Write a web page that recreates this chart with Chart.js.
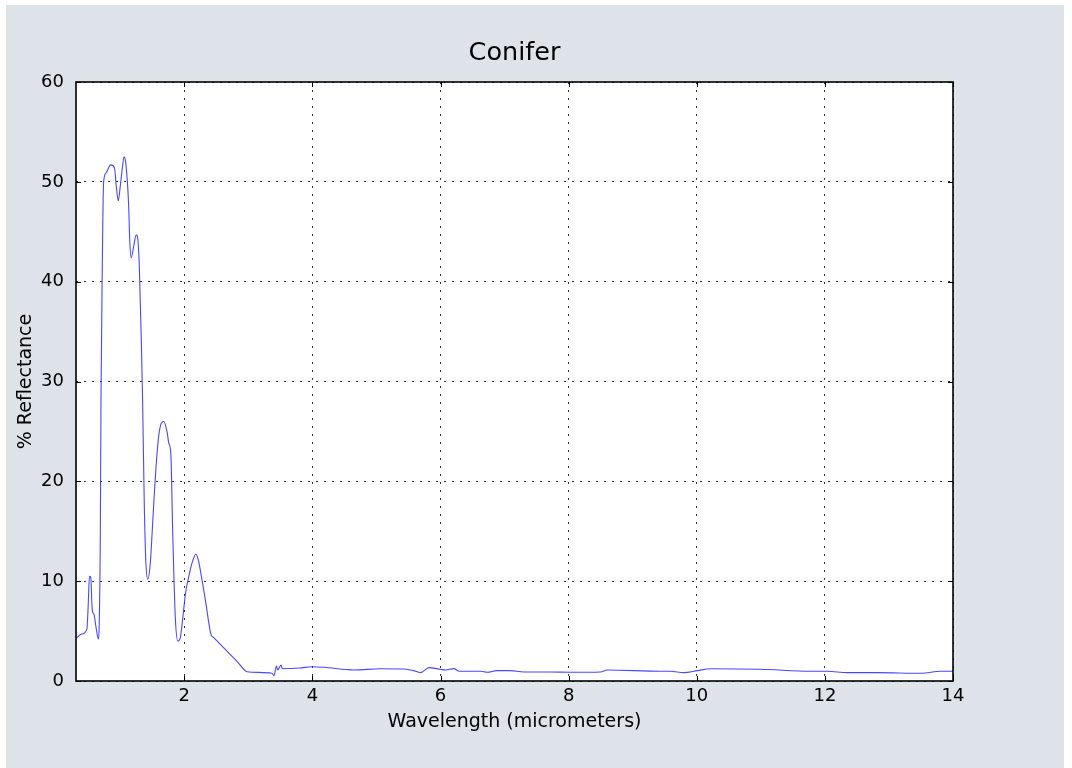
<!DOCTYPE html>
<html>
<head>
<meta charset="utf-8">
<script src="https://cdn.jsdelivr.net/npm/chart.js@4"></script>
<style>
  body { margin: 0; background: #ffffff; }
  #wrap { position: absolute; left: 6px; top: 5px; width: 1058px; height: 763px; background: #dde3e8; }
</style>
</head>
<body>
<div id="wrap"><canvas id="grafico" width="1058" height="763"></canvas></div>
<script>
// Comprimentos de onda (micrometros) e refletância (%)
const wavelength = [
    0.31, 0.40, 0.48, 0.50, 0.52, 0.54, 0.56, 0.57, 0.59, 0.62, 0.66, 0.67, 0.69, 0.70, 0.72, 0.74,
    0.78, 0.85, 0.91, 0.94, 0.97, 1.00, 1.03, 1.06, 1.09, 1.13, 1.15, 1.17, 1.21, 1.25, 1.28, 1.30,
    1.33, 1.35, 1.375, 1.40, 1.43, 1.47, 1.50, 1.53, 1.56, 1.60, 1.64, 1.68, 1.73, 1.76, 1.79, 1.82,
    1.86, 1.90, 1.94, 1.98, 2.02, 2.07, 2.13, 2.18, 2.22, 2.28, 2.33, 2.42, 2.45, 2.56, 2.70, 2.84,
    2.98, 3.37, 3.40, 3.44, 3.46, 3.51, 3.53, 3.80, 4.00, 4.18, 4.65, 5.06, 5.43, 5.58, 5.69, 5.82,
    6.00, 6.08, 6.21, 6.29, 6.63, 6.73, 6.88, 7.09, 7.30, 7.72, 8.02, 8.50, 8.60, 9.44, 9.59, 9.80,
    10.01, 10.22, 11.00, 11.78, 12.04, 12.35, 12.82, 13.50, 13.81, 14.00
];
const reflectance = [
    4.3, 4.7, 5.2, 7.5, 10.5, 10.4, 7.5, 6.9, 6.7, 5.5, 4.2, 5.0, 15.0, 28.0, 41.2, 49.9,
    50.9, 51.7, 51.4, 49.5, 48.1, 49.5, 51.2, 52.5, 51.7, 47.9, 44.0, 42.4, 43.5, 44.7, 43.9, 41.2,
    34.0, 28.0, 18.0, 12.0, 10.2, 11.8, 15.0, 18.5, 21.5, 24.5, 25.8, 26.0, 25.0, 23.8, 22.8, 14.8,
    6.4, 4.0, 4.4, 6.5, 8.8, 10.45, 12.0, 12.7, 12.1, 10.0, 8.1, 4.6, 4.4, 3.7, 2.77, 1.85,
    0.93, 0.77, 0.53, 1.5, 1.1, 1.6, 1.23, 1.3, 1.43, 1.37, 1.1, 1.23, 1.2, 1.04, 0.84, 1.34,
    1.17, 1.1, 1.24, 0.97, 0.97, 0.87, 1.04, 1.04, 0.9, 0.9, 0.87, 0.9, 1.1, 0.97, 0.97, 0.84,
    1.04, 1.23, 1.17, 0.97, 0.97, 0.84, 0.84, 0.77, 0.97, 0.97
];
const xTicks = [2, 4, 6, 8, 10, 12, 14];
const yTicks = [0, 10, 20, 30, 40, 50, 60];
const titulo = 'Conifer';

const fonte = 'DejaVu Sans';

// fundo branco, título centrado na área do gráfico, moldura e marcas para dentro
const moldura = {
    id: 'moldura',
    beforeDraw(chart) {
        const a = chart.chartArea;
        const c = chart.ctx;
        c.save();
        c.fillStyle = '#ffffff';
        c.fillRect(a.left, a.top, a.right - a.left, a.bottom - a.top);
        c.fillStyle = '#000';
        c.font = '25.5px "' + fonte + '"';
        c.textAlign = 'center';
        c.textBaseline = 'middle';
        c.fillText(titulo, (a.left + a.right) / 2, 48);
        c.restore();
    },
    afterDatasetsDraw(chart) {
        const ctx = chart.ctx;
        const a = chart.chartArea;
        const sx = chart.scales.x, sy = chart.scales.y;
        ctx.save();
        ctx.strokeStyle = '#000';
        ctx.lineWidth = 1;
        ctx.beginPath();
        xTicks.forEach(v => {
            const px = Math.round(sx.getPixelForValue(v)) + 0.5;
            ctx.moveTo(px, a.bottom); ctx.lineTo(px, a.bottom - 5);
            ctx.moveTo(px, a.top); ctx.lineTo(px, a.top + 5);
        });
        yTicks.forEach(v => {
            const py = Math.round(sy.getPixelForValue(v)) + 0.5;
            ctx.moveTo(a.left, py); ctx.lineTo(a.left + 5, py);
            ctx.moveTo(a.right, py); ctx.lineTo(a.right - 5, py);
        });
        ctx.stroke();
        ctx.lineWidth = 1.6;
        ctx.strokeRect(a.left, a.top, a.right - a.left, a.bottom - a.top);
        ctx.restore();
    }
};

const ctx = document.getElementById('grafico').getContext('2d');
new Chart(ctx, {
    type: 'line',
    data: {
        datasets: [{
            label: titulo,
            data: wavelength.map((w, i) => ({ x: w, y: reflectance[i] })),
            borderColor: 'rgba(40, 40, 255, 0.85)',
            borderWidth: 1.1,
            pointRadius: 0,
            fill: false,
            cubicInterpolationMode: 'monotone'
        }]
    },
    options: {
        responsive: false,
        animation: false,
        layout: { padding: { left: 0, right: 111, top: 77, bottom: 0 } },
        plugins: {
            legend: { display: false },
            tooltip: { enabled: false },
            title: { display: false }
        },
        scales: {
            x: {
                type: 'linear',
                min: 0.31,
                max: 14,
                afterBuildTicks: s => { s.ticks = xTicks.map(v => ({ value: v })); },
                afterFit: s => { s.height = 87; },
                grid: { color: '#333', lineWidth: 1, drawTicks: false },
                border: { display: false, dash: [2, 6] },
                ticks: {
                    color: '#000',
                    padding: 5,
                    maxRotation: 0,
                    autoSkip: false,
                    font: { family: fonte, size: 18 }
                },
                title: {
                    display: true,
                    text: 'Wavelength (micrometers)',
                    color: '#000',
                    font: { family: fonte, size: 19, lineHeight: 1.2 },
                    padding: { top: 0, bottom: 35 }
                }
            },
            y: {
                min: 0,
                max: 60,
                afterBuildTicks: s => { s.ticks = yTicks.map(v => ({ value: v })); },
                afterFit: s => { s.width = 70; },
                grid: { color: '#333', lineWidth: 1, drawTicks: false },
                border: { display: false, dash: [2, 6] },
                ticks: {
                    color: '#000',
                    padding: 12,
                    font: { family: fonte, size: 18 }
                },
                title: {
                    display: true,
                    text: '% Reflectance',
                    color: '#000',
                    font: { family: fonte, size: 19, lineHeight: 1.2 },
                    padding: { top: 9, bottom: 0 }
                }
            }
        }
    },
    plugins: [moldura]
});
</script>
</body>
</html>
